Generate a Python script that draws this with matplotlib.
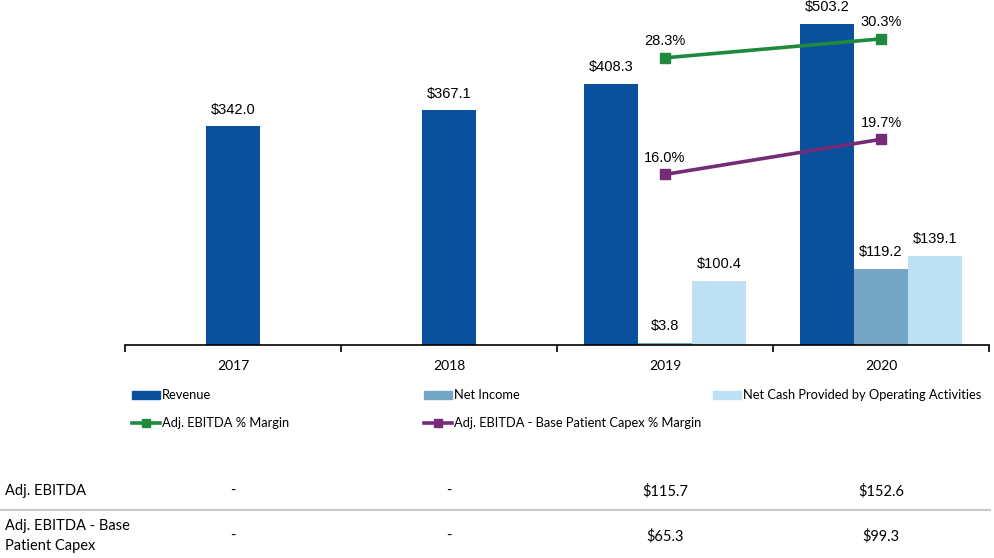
import matplotlib
matplotlib.use("Agg")
import matplotlib.pyplot as plt
from matplotlib.patches import Rectangle
from matplotlib.lines import Line2D
import numpy as np

years = ["2017", "2018", "2019", "2020"]
revenue = [342.0, 367.1, 408.3, 503.2]
net_income = [np.nan, np.nan, 3.8, 119.2]
net_cash = [np.nan, np.nan, 100.4, 139.1]
ebitda_margin = [np.nan, np.nan, 28.3, 30.3]
capex_margin = [np.nan, np.nan, 16.0, 19.7]
adj_ebitda = ["-", "-", "$115.7", "$152.6"]
adj_ebitda_capex = ["-", "-", "$65.3", "$99.3"]

C_REV = "#0A519D"
C_NI = "#75A6C5"
C_NC = "#BEE0F4"
C_GREEN = "#1F8A3E"
C_PURPLE = "#742C77"

LBL_FONT = ["Liberation Sans", "DejaVu Sans"]
TXT_FONT = ["Lato", "DejaVu Sans"]

W, H = 994, 558
fig = plt.figure(figsize=(W / 100, H / 100), dpi=100)
ax = fig.add_axes([125 / W, 1 - 345 / H, (989 - 125) / W, 345 / H])
ax2 = ax.twinx()

x = np.arange(len(years))
bw = 0.25
for i in x:
    has_more = not np.isnan(net_income[i])
    off = -bw if has_more else 0
    ax.bar(i + off, revenue[i], bw, color=C_REV)
    ax.annotate(f"${revenue[i]:.1f}", (i + off, revenue[i]), xytext=(0, 12),
                textcoords="offset points", ha="center", va="center",
                fontsize=10.5, family=LBL_FONT)
    if has_more:
        ax.bar(i, net_income[i], bw, color=C_NI)
        ax.bar(i + bw, net_cash[i], bw, color=C_NC)
        for xx, v in [(i, net_income[i]), (i + bw, net_cash[i])]:
            ax.annotate(f"${v:.1f}", (xx, v), xytext=(0, 12),
                        textcoords="offset points", ha="center", va="center",
                        fontsize=10.5, family=LBL_FONT)

ax.set_xlim(-0.5, 3.5)
ax.set_ylim(0, 540)
for s in ["top", "left", "right"]:
    ax.spines[s].set_visible(False)
ax.spines["bottom"].set_linewidth(1.2)
ax.set_yticks([])
ax.set_xticks(np.arange(-0.5, 4, 1))
ax.set_xticklabels([])
ax.tick_params(axis="x", which="major", length=5, width=1.2, direction="out")
ax.set_xticks(x, minor=True)
ax.set_xticklabels(years, minor=True, fontsize=10, family=TXT_FONT)
ax.tick_params(axis="x", which="minor", length=0, pad=11)

for vals, col in [(ebitda_margin, C_GREEN), (capex_margin, C_PURPLE)]:
    ax2.plot(x, vals, color=col, lw=2.6, marker="s", ms=6.5)
    for i in x:
        if not np.isnan(vals[i]):
            ax2.annotate(f"{vals[i]:.1f}%", (i, vals[i]), xytext=(0, 12),
                         textcoords="offset points", ha="center", va="center",
                         fontsize=10.5, family=LBL_FONT)
ax2.set_ylim(-2.0, 34.4)
ax2.axis("off")

# legend, laid out by hand to match the source columns
def fy(py):
    return 1 - py / H

rows = [
    [(132, "patch", C_REV, "Revenue"), (424, "patch", C_NI, "Net Income"),
     (713, "patch", C_NC, "Net Cash Provided by Operating Activities")],
    [(132, "line", C_GREEN, "Adj. EBITDA % Margin"),
     (424, "line", C_PURPLE, "Adj. EBITDA - Base Patient Capex % Margin")],
]
for py, row in zip([395, 423], rows):
    for px, kind, col, label in row:
        if kind == "patch":
            fig.add_artist(Rectangle((px / W, fy(py + 4)), 28 / W, 8 / H,
                                     color=col, transform=fig.transFigure))
        else:
            fig.add_artist(Line2D([px / W, (px + 28) / W], [fy(py), fy(py)],
                                  color=col, lw=2.6, transform=fig.transFigure))
            fig.add_artist(Line2D([(px + 14) / W], [fy(py)], color=col,
                                  marker="s", ms=6, transform=fig.transFigure))
        fig.text((px + 30) / W, fy(py), label, fontsize=9.3, family=TXT_FONT,
                 va="center", ha="left")

# table below the chart
col_x = [233, 449, 665, 881]
fig.text(5 / W, fy(491), "Adj. EBITDA", fontsize=10.5, family=TXT_FONT, va="center")
for cx, v in zip(col_x, adj_ebitda):
    fig.text(cx / W, fy(491), v, fontsize=10.5, family=TXT_FONT, va="center", ha="center")
fig.add_artist(Line2D([0, 990 / W], [fy(510), fy(510)], color="#C8C8C8", lw=1.5,
                      transform=fig.transFigure))
fig.text(5 / W, fy(536), "Adj. EBITDA - Base\nPatient Capex", fontsize=10.5,
         family=TXT_FONT, va="center", linespacing=1.55)
for cx, v in zip(col_x, adj_ebitda_capex):
    fig.text(cx / W, fy(536), v, fontsize=10.5, family=TXT_FONT, va="center", ha="center")

fig.savefig("out.png", dpi=100)
